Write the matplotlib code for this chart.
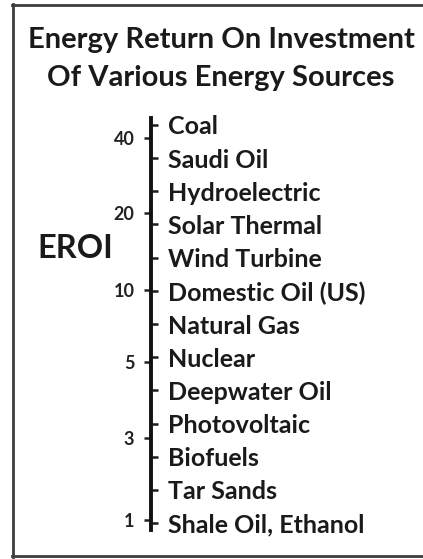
import matplotlib
matplotlib.use("Agg")
import matplotlib.pyplot as plt
from matplotlib.lines import Line2D

# sources, ordered from highest to lowest EROI (top to bottom)
sources = ["Coal", "Saudi Oil", "Hydroelectric", "Solar Thermal", "Wind Turbine",
           "Domestic Oil (US)", "Natural Gas", "Nuclear", "Deepwater Oil",
           "Photovoltaic", "Biofuels", "Tar Sands", "Shale Oil, Ethanol"]
source_pos = list(range(len(sources)))

# EROI scale marks, positioned along the same rank axis
eroi_labels = ["40", "20", "10", "5", "3", "1"]
eroi_pos = [0.39, 2.65, 4.97, 7.14, 9.43, 11.9]

plt.rcParams["font.family"] = ["Lato", "DejaVu Sans"]
WEIGHT = "bold"

W, H = 423, 559
fig = plt.figure(figsize=(W / 100, H / 100), dpi=100)
fig.patch.set_facecolor("white")

ax = fig.add_axes([151 / W, (H - 530) / H, 250 / W, (530 - 118) / H])
ax.set_ylim(12.21, -0.21)
ax.set_xlim(0, 1)
ax.set_xticks([])
for s in ["top", "right", "bottom"]:
    ax.spines[s].set_visible(False)
ax.spines["left"].set_linewidth(2.8)
ax.spines["left"].set_color("#111111")
ax.set_yticks(eroi_pos, eroi_labels)
ax.tick_params(axis="y", direction="out", length=5, width=1.8, pad=7,
               labelsize=13, colors="#222222")
for t in ax.get_yticklabels():
    t.set_fontweight(WEIGHT)

ax2 = ax.twinx()
ax2.set_ylim(ax.get_ylim())
for s in ["top", "left", "bottom"]:
    ax2.spines[s].set_visible(False)
ax2.spines["right"].set_position(("axes", 0))
ax2.spines["right"].set_visible(False)
ax2.set_yticks(source_pos, sources)
ax2.tick_params(axis="y", direction="out", length=5, width=1.8, pad=7,
                labelsize=18, colors="#1a1a1a")
for t in ax2.get_yticklabels():
    t.set_fontweight(WEIGHT)

# title and axis name
fig.text(221 / W, 1 - 59 / H, "Energy Return On Investment\nOf Various Energy Sources",
         ha="center", va="center", fontsize=21, fontweight=WEIGHT,
         linespacing=1.55, color="#1a1a1a")
fig.text(37 / W, 1 - 248 / H, "EROI", ha="left", va="center",
         fontsize=23.5, fontweight=WEIGHT, color="#1a1a1a")

# frame (open on the right)
bc = "#3d3d3d"
fig.add_artist(Line2D([13 / W, 13 / W], [1 - 4 / H, 1 - 557 / H], color=bc, lw=2, transform=fig.transFigure))
fig.add_artist(Line2D([12 / W, 1], [1 - 5 / H, 1 - 5 / H], color=bc, lw=2, transform=fig.transFigure))
fig.add_artist(Line2D([12 / W, 1], [1 - 556 / H, 1 - 556 / H], color=bc, lw=2, transform=fig.transFigure))

fig.savefig("out.png", dpi=100)
